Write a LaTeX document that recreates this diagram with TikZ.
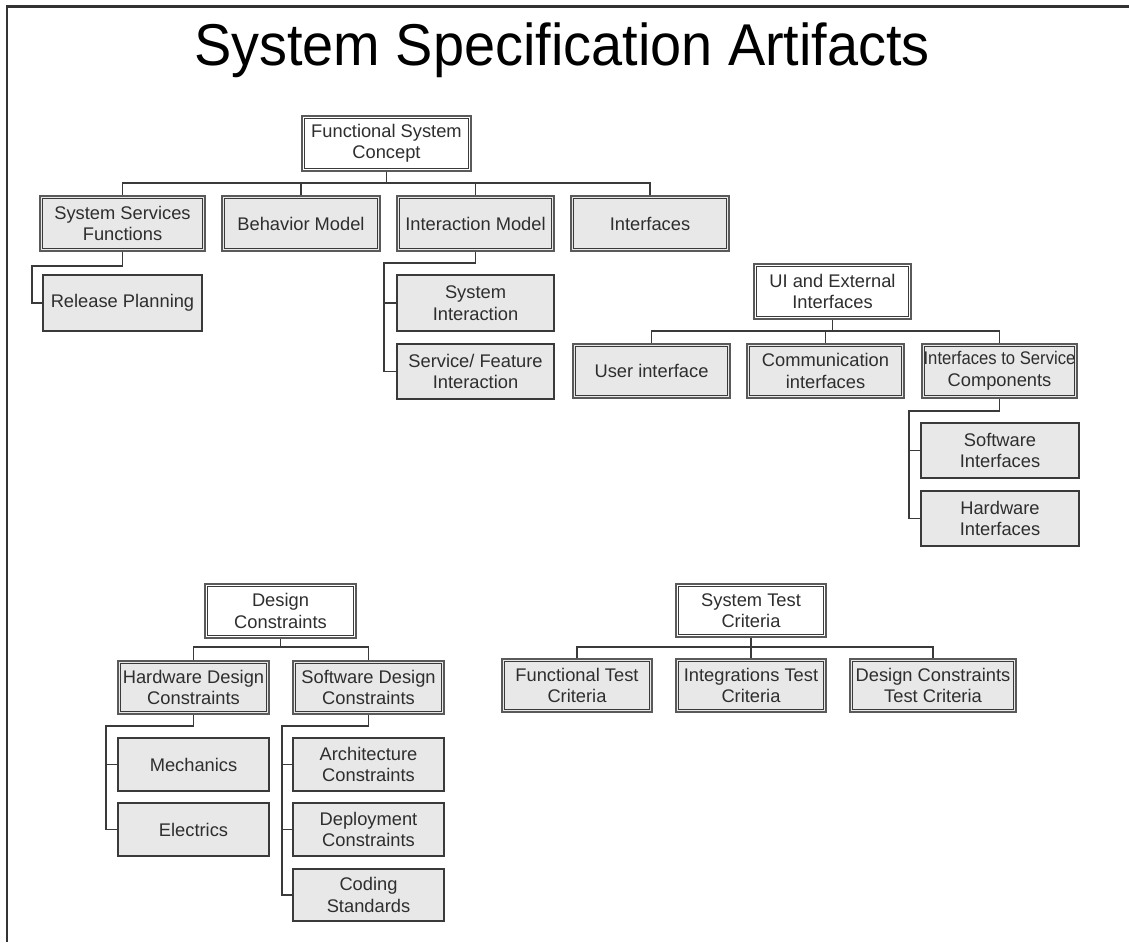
\documentclass[tikz,border=0pt]{standalone}
\usepackage{fontspec}
\usepackage{graphicx}
\usetikzlibrary{calc}
\setmainfont{Liberation Sans}
\definecolor{boxfill}{HTML}{E8E8E8}
\definecolor{ink}{HTML}{2E2E2E}
\definecolor{edge}{HTML}{3A3A3A}
\definecolor{rim}{HTML}{5A5A5A}
\tikzset{
  base/.style={rectangle, align=center, inner sep=0pt, text=ink,
    font=\fontsize{18.3}{21.5}\selectfont},
  % thick grey rim with a thin dark rule just inside it
  rimmed/.style={draw=rim, line width=2.2pt,
    path picture={\draw[edge, line width=0.9pt]
      ($(path picture bounding box.north west)+(2.5,2.5)$) rectangle
      ($(path picture bounding box.south east)+(-2.5,-2.5)$);}},
  headbox/.style={base, fill=white, rimmed},
  groupbox/.style={base, fill=boxfill, rimmed},
  leafbox/.style={base, fill=boxfill, draw=edge, line width=1.5pt},
  conn/.style={draw=edge, line width=1.8pt},
}
\begin{document}
\begin{tikzpicture}[x=1pt, y=-1pt]
\useasboundingbox (0,0) rectangle (1129,942);
% page frame
\draw[line width=2.6pt, black!80] (7,942) -- (7,6.5) -- (1129,6.5);
% title
\node[inner sep=0pt, anchor=base] (title) at (562,66)
  {\scalebox{0.947}[1]{\fontsize{59}{64}\selectfont System Specification Artifacts}};

% ---------- functional system concept ----------
\node[headbox, minimum width=169, minimum height=55] (fsc) at (386.5,143.5) {Functional System\\Concept};
\node[groupbox, minimum width=165, minimum height=55] (ssf) at (122.5,223.5) {System Services\\Functions};
\node[groupbox, minimum width=158, minimum height=55] (bm) at (301,223.5) {Behavior Model};
\node[groupbox, minimum width=157, minimum height=55] (im) at (475.5,223.5) {Interaction Model};
\node[groupbox, minimum width=158, minimum height=55] (ifc) at (650,223.5) {Interfaces};
\node[leafbox, minimum width=159, minimum height=56] (rp) at (122.5,303) {Release Planning};
\node[leafbox, minimum width=157, minimum height=56] (si) at (475.5,303) {System\\Interaction};
\node[leafbox, minimum width=157, minimum height=55] (sfi) at (475.5,371.5) {Service/ Feature\\Interaction};

\coordinate (busA) at (0,183);
\foreach \c in {ssf,bm,im,ifc}
  \draw[conn] (fsc.south) -- (fsc.south |- busA) -| (\c.north);
\coordinate (railA) at (32,266);
\draw[conn] (ssf.south) |- (railA) |- (rp.west);
\coordinate (railB) at (384,263);
\draw[conn] (im.south) |- (railB) |- (sfi.west);
\draw[conn] (railB) |- (si.west);

% ---------- UI and external interfaces ----------
\node[headbox, minimum width=157, minimum height=55] (uie) at (832.5,291.5) {UI and External\\Interfaces};
\node[groupbox, minimum width=157, minimum height=54] (ui) at (651.5,371) {User interface};
\node[groupbox, minimum width=157, minimum height=54] (ci) at (825.5,371) {Communication\\interfaces};
\node[groupbox, minimum width=155, minimum height=54] (isc) at (999.5,371)
  {\scalebox{0.91}[1]{Interfaces to Service}\\Components};
\node[leafbox, minimum width=158, minimum height=55] (swi) at (1000,450.5) {Software\\Interfaces};
\node[leafbox, minimum width=158, minimum height=55] (hwi) at (1000,518.5) {Hardware\\Interfaces};

\coordinate (busB) at (0,331);
\foreach \c in {ui,ci,isc}
  \draw[conn] (uie.south) -- (uie.south |- busB) -| (\c.north);
\coordinate (railC) at (909,411);
\draw[conn] (isc.south) |- (railC) |- (hwi.west);
\draw[conn] (railC) |- (swi.west);

% ---------- design constraints ----------
\node[headbox, minimum width=151, minimum height=54] (dc) at (280.5,611) {Design\\Constraints};
\node[groupbox, minimum width=151, minimum height=53] (hdc) at (193.5,687.5) {Hardware Design\\Constraints};
\node[groupbox, minimum width=151, minimum height=53] (sdc) at (368.5,687.5) {Software Design\\Constraints};
\node[leafbox, minimum width=151, minimum height=53] (mech) at (193.5,764.5) {Mechanics};
\node[leafbox, minimum width=151, minimum height=53] (elec) at (193.5,829.5) {Electrics};
\node[leafbox, minimum width=151, minimum height=53] (arch) at (368.5,764.5) {Architecture\\Constraints};
\node[leafbox, minimum width=151, minimum height=53] (depl) at (368.5,829.5) {Deployment\\Constraints};
\node[leafbox, minimum width=151, minimum height=52] (code) at (368.5,895) {Coding\\Standards};

\coordinate (busC) at (0,647);
\foreach \c in {hdc,sdc}
  \draw[conn] (dc.south) -- (dc.south |- busC) -| (\c.north);
\coordinate (railD) at (106,726);
\draw[conn] (hdc.south) |- (railD) |- (elec.west);
\draw[conn] (railD) |- (mech.west);
\coordinate (railE) at (282,726);
\draw[conn] (sdc.south) |- (railE) |- (code.west);
\draw[conn] (railE) |- (arch.west);
\draw[conn] (railE) |- (depl.west);

% ---------- system test criteria ----------
\node[headbox, minimum width=150, minimum height=53] (stc) at (751,610.5) {System Test\\Criteria};
\node[groupbox, minimum width=150, minimum height=53] (ftc) at (577,685.5) {Functional Test\\Criteria};
\node[groupbox, minimum width=150, minimum height=53] (itc) at (751,685.5) {Integrations Test\\Criteria};
\node[groupbox, minimum width=166, minimum height=53] (dctc) at (933,685.5) {Design Constraints\\Test Criteria};

\coordinate (busD) at (0,647);
\foreach \c in {ftc,itc,dctc}
  \draw[conn] (stc.south) -- (stc.south |- busD) -| (\c.north);
\end{tikzpicture}
\end{document}
